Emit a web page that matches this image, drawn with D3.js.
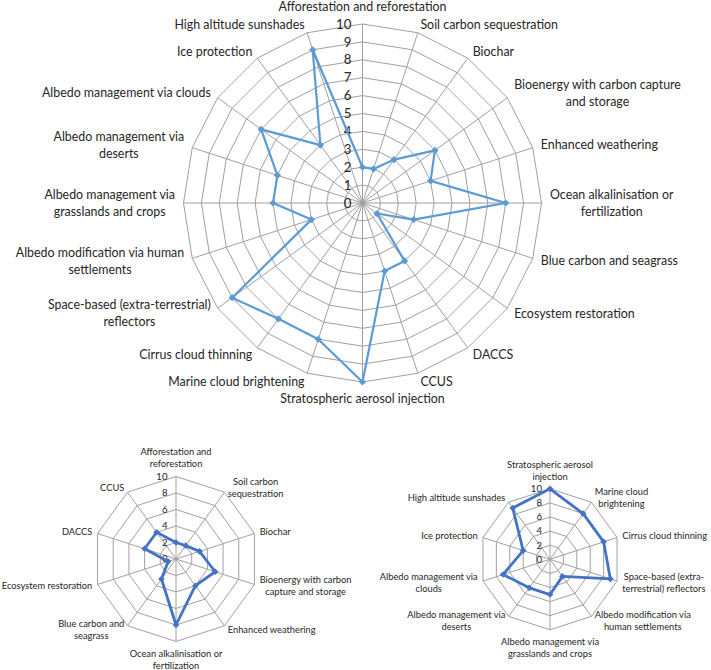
<!DOCTYPE html>
<html><head><meta charset="utf-8">
<script src="https://cdn.jsdelivr.net/npm/d3@7"></script>
<style>
body{margin:0;background:#fff}
svg{display:block}
text{font-family:Lato,"Open Sans",sans-serif;fill:#262626}
</style>
</head><body>
<svg id="chart" width="711" height="670"></svg>
<script>
// ---------- DATA ----------
const allCategories = [
  "Afforestation and reforestation","Soil carbon sequestration","Biochar",
  "Bioenergy with carbon capture and storage","Enhanced weathering",
  "Ocean alkalinisation or fertilization","Blue carbon and seagrass",
  "Ecosystem restoration","DACCS","CCUS","Stratospheric aerosol injection",
  "Marine cloud brightening","Cirrus cloud thinning",
  "Space-based (extra-terrestrial) reflectors",
  "Albedo modification via human settlements",
  "Albedo management via grasslands and crops",
  "Albedo management via deserts","Albedo management via clouds",
  "Ice protection","High altitude sunshades"
];
const allLabelLines = [
  ["Afforestation and reforestation"],["Soil carbon sequestration"],["Biochar"],
  ["Bioenergy with carbon capture","and storage"],["Enhanced weathering"],
  ["Ocean alkalinisation or","fertilization"],["Blue carbon and seagrass"],
  ["Ecosystem restoration"],["DACCS"],["CCUS"],["Stratospheric aerosol injection"],
  ["Marine cloud brightening"],["Cirrus cloud thinning"],
  ["Space-based (extra-terrestrial)","reflectors"],
  ["Albedo modification via human","settlements"],
  ["Albedo management via","grasslands and crops"],
  ["Albedo management via","deserts"],["Albedo management via clouds"],
  ["Ice protection"],["High altitude sunshades"]
];
const allValues = [2,2,3,5,4,8,3,1,4,4,10,8,8,9,3,5,5,7,4,9];

const cdrCategories = [
  "Afforestation and reforestation","Soil carbon sequestration","Biochar",
  "Bioenergy with carbon capture and storage","Enhanced weathering",
  "Ocean alkalinisation or fertilization","Blue carbon and seagrass",
  "Ecosystem restoration","DACCS","CCUS"
];
const cdrLabelLines = [
  ["Afforestation and","reforestation"],["Soil carbon","sequestration"],["Biochar"],
  ["Bioenergy with carbon","capture and storage"],["Enhanced weathering"],
  ["Ocean alkalinisation or","fertilization"],["Blue carbon and","seagrass"],
  ["Ecosystem restoration"],["DACCS"],["CCUS"]
];
const cdrValues = [2,2,3,5,4,8,3,1,4,4];

const srmCategories = [
  "Stratospheric aerosol injection","Marine cloud brightening","Cirrus cloud thinning",
  "Space-based (extra-terrestrial) reflectors","Albedo modification via human settlements",
  "Albedo management via grasslands and crops","Albedo management via deserts",
  "Albedo management via clouds","Ice protection","High altitude sunshades"
];
const srmLabelLines = [
  ["Stratospheric aerosol","injection"],["Marine cloud","brightening"],["Cirrus cloud thinning"],
  ["Space-based (extra-","terrestrial) reflectors"],["Albedo modification via","human settlements"],
  ["Albedo management via","grasslands and crops"],["Albedo management via","deserts"],
  ["Albedo management via","clouds"],["Ice protection"],["High altitude sunshades"]
];
const srmValues = [10,8,8,9,3,5,5,7,4,9];

const bigTicks = [0,1,2,3,4,5,6,7,8,9,10];
const smallTicks = [0,2,4,6,8,10];

// ---------- DRAWING ----------
const svg = d3.select("#chart");

function radar(opt) {
  const n = opt.categories.length;
  const g = svg.append("g").attr("transform", `translate(${opt.cx},${opt.cy})`);
  const r = d3.scaleLinear().domain([0, 10]).range([0, opt.R]);
  const a = d3.scaleLinear().domain([0, n]).range([0, 2 * Math.PI]);
  const idx = d3.range(n);

  // rings
  const ring = d3.lineRadial().angle(i => a(i)).curve(d3.curveLinearClosed);
  g.selectAll(".ring").data(opt.ticks.filter(t => t > 0)).join("path")
    .attr("d", t => ring.radius(r(t))(idx))
    .attr("fill", "none").attr("stroke", "#a0a0a0").attr("stroke-width", 1);
  // spokes
  g.selectAll(".spoke").data(idx).join("line")
    .attr("x1", 0).attr("y1", 0)
    .attr("x2", i => r(10) * Math.sin(a(i)))
    .attr("y2", i => -r(10) * Math.cos(a(i)))
    .attr("stroke", "#a0a0a0").attr("stroke-width", 1);

  // tick labels
  g.selectAll(".tick").data(opt.ticks).join("text")
    .attr("x", -opt.tickGap).attr("y", t => -r(t))
    .attr("dy", "0.35em").attr("text-anchor", "end")
    .style("font-size", opt.tickFont + "px")
    .text(t => t);

  // series
  const line = d3.lineRadial()
    .angle((d, i) => a(i)).radius(d => r(d)).curve(d3.curveLinearClosed);
  g.append("path").datum(opt.values).attr("d", line)
    .attr("fill", "none").attr("stroke", opt.color)
    .attr("stroke-width", opt.lineWidth).attr("stroke-linejoin", "round");
  const sym = d3.symbol().type(d3.symbolSquare).size(opt.markerSize);
  g.selectAll(".mk").data(opt.values).join("path")
    .attr("d", sym)
    .attr("transform", (d, i) =>
      `translate(${r(d) * Math.sin(a(i))},${-r(d) * Math.cos(a(i))}) rotate(45)`)
    .attr("fill", opt.color);

  // category labels
  opt.labels.forEach((lines, i) => {
    const th = a(i), s = Math.sin(th), c = Math.cos(th);
    const vx = r(10) * s, vy = -r(10) * c;
    const bh = lines.length * opt.lineH;
    let x, yc, anchor;
    if (Math.abs(s) < 0.01) {
      anchor = "middle"; x = vx;
      yc = vy + (c > 0 ? -1 : 1) * (opt.gapTB + bh / 2);
    } else {
      anchor = s > 0 ? "start" : "end";
      x = vx + opt.gap * s;
      yc = vy - opt.gap * c;
    }
    const t = g.append("text").attr("text-anchor", anchor)
      .style("font-size", opt.font + "px");
    if (lines.length > 1 && anchor !== "middle") {
      const widths = lines.map(L => {
        const m = g.append("text").style("font-size", opt.font + "px").text(L);
        const w = m.node().getComputedTextLength(); m.remove(); return w;
      });
      const wmax = d3.max(widths);
      const bx = anchor === "start" ? x + wmax / 2 : x - wmax / 2;
      t.attr("text-anchor", "middle");
      lines.forEach((L, k) => t.append("tspan").attr("x", bx)
        .attr("y", yc - bh / 2 + opt.lineH * (k + 0.5)).attr("dy", "0.35em").text(L));
    } else {
      lines.forEach((L, k) => t.append("tspan").attr("x", x)
        .attr("y", yc - bh / 2 + opt.lineH * (k + 0.5)).attr("dy", "0.35em").text(L));
    }
  });
}

radar({cx: 362.5, cy: 203, R: 179, categories: allCategories, labels: allLabelLines,
  values: allValues, ticks: bigTicks, color: "#5b9bd5", lineWidth: 2.2, markerSize: 26,
  font: 12.4, tickFont: 13.3, tickGap: 11, lineH: 17, gap: 8.5, gapTB: 8.5});

radar({cx: 176, cy: 559, R: 82.5, categories: cdrCategories, labels: cdrLabelLines,
  values: cdrValues, ticks: smallTicks, color: "#4472c4", lineWidth: 2.8, markerSize: 22,
  font: 9.3, tickFont: 9.6, tickGap: 8.5, lineH: 12, gap: 5.5, gapTB: 6.5});

radar({cx: 550, cy: 559.3, R: 70.5, categories: srmCategories, labels: srmLabelLines,
  values: srmValues, ticks: smallTicks, color: "#4472c4", lineWidth: 2.8, markerSize: 22,
  font: 9.3, tickFont: 9.6, tickGap: 8, lineH: 11.8, gap: 5.5, gapTB: 6});
</script>
</body></html>
